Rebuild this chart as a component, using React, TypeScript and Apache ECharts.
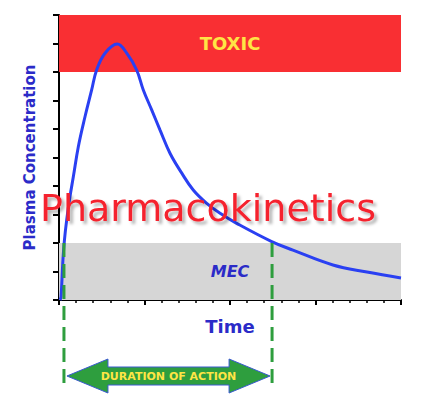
import React, { useEffect, useRef } from 'react';
import * as echarts from 'echarts';

// Time (arbitrary units, 0..20) and plasma concentration (0..10)
const timeValues = [0.06, 0.12, 0.22, 0.31, 0.45, 0.64, 0.84, 1.13, 1.52, 1.91, 2.2, 2.69, 3.41, 3.96, 4.54, 4.93, 5.42, 5.91, 6.49, 7.18, 7.85, 8.64, 9.42, 10.39, 12.44, 13.68, 16.02, 18.01, 20];
const concValues = [0, 0.12, 1.3, 2.05, 2.81, 3.62, 4.33, 5.38, 6.43, 7.37, 8.07, 8.66, 8.98, 8.66, 8.07, 7.37, 6.67, 5.96, 5.15, 4.45, 3.86, 3.39, 3.04, 2.69, 2.05, 1.75, 1.23, 0.98, 0.77];
const toxicRange = [8, 10];
const mecRange = [0, 2];
const durationBounds = [0.29, 12.46];
const bandLabels = ['TOXIC', 'MEC'];
const axisNames = ['Time', 'Plasma Concentration'];
const titleText = 'Pharmacokinetics';
const arrowLabel = 'DURATION OF ACTION';

const FONT = '"DejaVu Sans", Verdana, sans-serif';

export default function App() {
  const ref = useRef<HTMLDivElement>(null);
  useEffect(() => {
    document.body.style.margin = '0';
    const chart = echarts.init(ref.current!, null, { renderer: 'svg' });
    const data = timeValues.map((t, i) => [t, concValues[i]]);
    chart.setOption({
      animation: false,
      grid: { left: 59, right: 36, top: 15, bottom: 105 },
      xAxis: {
        type: 'value', min: 0, max: 20, interval: 5,
        name: axisNames[0], nameLocation: 'middle', nameGap: 17,
        nameTextStyle: { color: '#2B2BC8', fontWeight: 'bold', fontSize: 18, fontFamily: FONT },
        axisLine: { show: true, lineStyle: { color: '#000', width: 2 } },
        axisTick: { show: true, length: 5, lineStyle: { color: '#000', width: 2 } },
        minorTick: { show: true, splitNumber: 5, length: 3, lineStyle: { color: '#000', width: 1.5 } },
        axisLabel: { show: false },
        splitLine: { show: false },
      },
      yAxis: {
        type: 'value', min: 0, max: 10, interval: 1,
        name: axisNames[1], nameLocation: 'middle', nameGap: 22,
        nameTextStyle: { color: '#2B2BC8', fontWeight: 'bold', fontSize: 15, fontFamily: FONT },
        axisLine: { show: true, lineStyle: { color: '#000', width: 2 } },
        axisTick: { show: true, length: 6, lineStyle: { color: '#000', width: 2 } },
        axisLabel: { show: false },
        splitLine: { show: false },
      },
      series: [{
        type: 'line', data, smooth: 0.4, symbol: 'none',
        lineStyle: { color: '#2A40F2', width: 3 },
        z: 5,
        markArea: {
          silent: true,
          data: [
            [
              { yAxis: toxicRange[0], itemStyle: { color: '#F92F33' }, label: { show: true, position: 'inside', formatter: bandLabels[0], color: '#FFE545', fontWeight: 'bold', fontSize: 18, fontFamily: FONT } },
              { yAxis: toxicRange[1] },
            ],
            [
              { yAxis: mecRange[0], itemStyle: { color: '#D6D6D6' }, label: { show: true, position: 'inside', formatter: bandLabels[1], color: '#2B2BC8', fontWeight: 'bold', fontStyle: 'italic', fontSize: 16, fontFamily: FONT } },
              { yAxis: mecRange[1] },
            ],
          ],
        },
      }],
    });

    const p0 = chart.convertToPixel({ gridIndex: 0 }, [durationBounds[0], mecRange[1]]) as number[];
    const p1 = chart.convertToPixel({ gridIndex: 0 }, [durationBounds[1], mecRange[1]]) as number[];
    const lineBottom = 385;
    const ay = 376;
    const L = p0[0] + 3;
    const R = p1[0] - 2;
    const hw = 41;
    const arrowPts = [
      [L, ay], [L + hw, ay - 17], [L + hw, ay - 9], [R - hw, ay - 9], [R - hw, ay - 17],
      [R, ay], [R - hw, ay + 17], [R - hw, ay + 9], [L + hw, ay + 9], [L + hw, ay + 17],
    ];
    const dashStyle = { stroke: '#2E9E3E', lineWidth: 3, lineDash: [14, 7] };
    chart.setOption({
      graphic: [
        { type: 'line', z: 50, shape: { x1: p0[0], y1: p0[1], x2: p0[0], y2: lineBottom }, style: dashStyle },
        { type: 'line', z: 50, shape: { x1: p1[0], y1: p1[1], x2: p1[0], y2: lineBottom }, style: dashStyle },
        { type: 'polygon', z: 60, shape: { points: arrowPts }, style: { fill: '#2E9E3E', stroke: '#3A5AD0', lineWidth: 1 } },
        {
          type: 'text', z: 61, x: (L + R) / 2, y: ay,
          style: { text: arrowLabel, fill: '#FFE545', font: `bold 11px ${FONT}`, textAlign: 'center', textVerticalAlign: 'middle' },
        },
        {
          type: 'text', z: 100, x: 208, y: 208,
          style: {
            text: titleText, fill: '#F5222D', font: `38px ${FONT}`, textAlign: 'center', textVerticalAlign: 'middle',
            textShadowColor: 'rgba(0,0,0,0.3)', textShadowBlur: 3, textShadowOffsetX: 3, textShadowOffsetY: 3,
          },
        },
      ],
    });
    return () => chart.dispose();
  }, []);
  return <div ref={ref} style={{ position: 'absolute', left: 0, top: 0, width: 437, height: 405 }} />;
}
